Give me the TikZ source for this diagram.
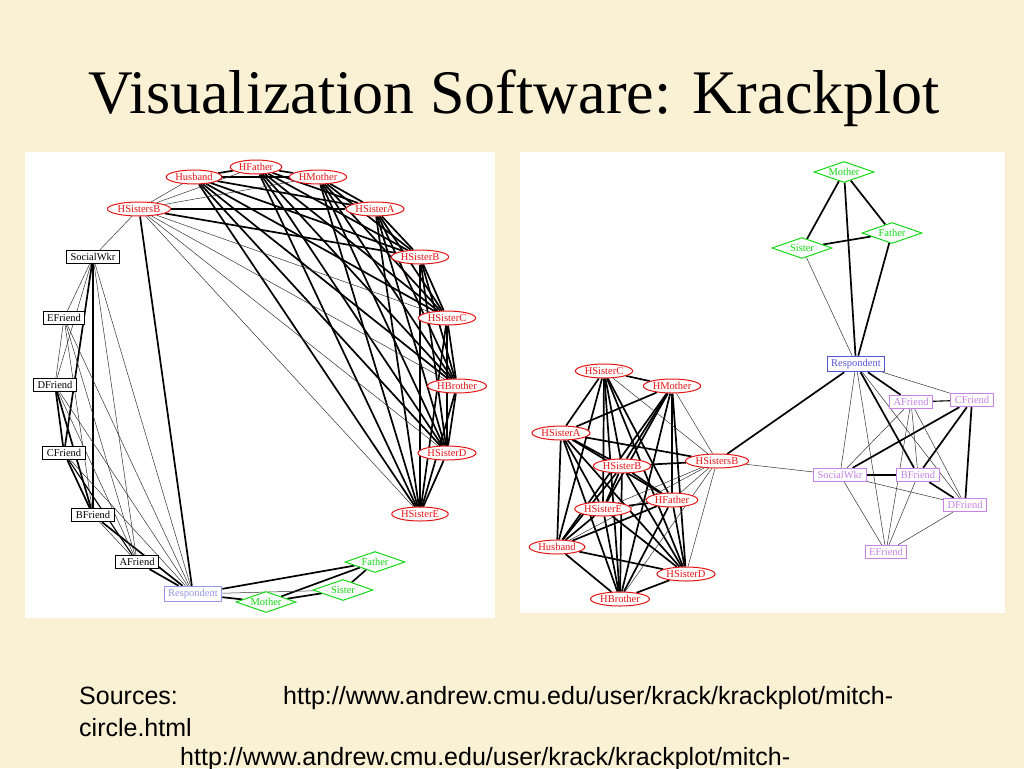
\documentclass[tikz,border=0pt]{standalone}
\usepackage{fontspec}
\setmainfont{Liberation Serif}
\setsansfont{Liberation Sans}
\usetikzlibrary{shapes,positioning,backgrounds}

\definecolor{slidebg}{RGB}{250,240,212}
\definecolor{famred}{RGB}{228,20,20}
\definecolor{kingreen}{RGB}{20,215,20}
\definecolor{egoblue}{RGB}{150,150,235}
\definecolor{egodark}{RGB}{85,85,215}
\definecolor{palviolet}{RGB}{200,130,230}

\pgfdeclarelayer{panel}
\pgfdeclarelayer{ties}
\pgfsetlayers{panel,ties,main}

\begin{document}
\begin{tikzpicture}[x=1pt, y=-1pt,
    fam/.style={ellipse, draw=famred, text=famred, fill=white, line width=1pt, inner xsep=1pt, inner ysep=0pt, minimum height=14, font=\fontsize{10.5}{10.5}\selectfont},
    kin/.style={diamond, aspect=2.7, draw=kingreen, text=kingreen, fill=white, line width=1pt, inner sep=0pt, minimum width=60, minimum height=21, font=\fontsize{10.5}{10.5}\selectfont},
    palbox/.style={rectangle, draw, fill=white, line width=1pt, inner xsep=4pt, inner ysep=3pt, font=\fontsize{10.5}{10.5}\selectfont},
    strongtie/.style={draw=black, line width=1.7pt},
    midtie/.style={draw=black, line width=1.1pt},
    weaktie/.style={draw=black!80, line width=0.5pt},
    title/.style={font=\fontsize{62}{62}\selectfont, anchor=base},
    source/.style={font=\sffamily\fontsize{25}{25}\selectfont, anchor=base west, inner sep=0pt},
]

\clip (0,0) rectangle (1024,768);

% Slide and panels
\begin{pgfonlayer}{panel}
\fill[slidebg] (0,0) rectangle (1024,768);
\fill[white] (25,152) rectangle (495,618);
\fill[white] (520,152) rectangle (1005,613);
\end{pgfonlayer}

\node[title] (head) at (514,113) {Visualization Software: Krackplot};

% Circle layout
\node[fam] (lhfather) at (256,167) {HFather};
\node[fam] (lhusband) at (194,177) {Husband};
\node[fam] (lhmother) at (318,177) {HMother};
\node[fam] (lhsistersb) at (139,209) {HSistersB};
\node[fam] (lhsistera) at (375,209) {HSisterA};
\node[fam] (lhsisterb) at (420,257) {HSisterB};
\node[fam] (lhsisterc) at (447,318) {HSisterC};
\node[fam] (lhbrother) at (457,386) {HBrother};
\node[fam] (lhsisterd) at (447,453) {HSisterD};
\node[fam] (lhsistere) at (420,514) {HSisterE};
\node[palbox] (lsocialwkr) at (93,257) {SocialWkr};
\node[palbox] (lefriend) at (64,318) {EFriend};
\node[palbox] (ldfriend) at (55,385) {DFriend};
\node[palbox] (lcfriend) at (64,453) {CFriend};
\node[palbox] (lbfriend) at (93,515) {BFriend};
\node[palbox] (lafriend) at (137,562) {AFriend};
\node[palbox, draw=egoblue, text=egoblue] (lrespondent) at (193,594) {Respondent};
\node[kin] (lfather) at (375,562) {Father};
\node[kin] (lsister) at (343,590) {Sister};
\node[kin] (lmother) at (266,602) {Mother};

% Spring layout
\node[kin] (rmother) at (844,172) {Mother};
\node[kin] (rfather) at (892,233) {Father};
\node[kin] (rsister) at (802,248) {Sister};
\node[palbox, draw=egodark, text=egodark] (rrespondent) at (856,364) {Respondent};
\node[palbox, draw=palviolet, text=palviolet] (rafriend) at (911,402) {AFriend};
\node[palbox, draw=palviolet, text=palviolet] (rcfriend) at (972,400) {CFriend};
\node[palbox, draw=palviolet, text=palviolet] (rsocialwkr) at (840,475) {SocialWkr};
\node[palbox, draw=palviolet, text=palviolet] (rbfriend) at (918,475) {BFriend};
\node[palbox, draw=palviolet, text=palviolet] (rdfriend) at (965,505) {DFriend};
\node[palbox, draw=palviolet, text=palviolet] (refriend) at (886,552) {EFriend};
\node[fam] (rhsisterc) at (604,371) {HSisterC};
\node[fam] (rhmother) at (672,386) {HMother};
\node[fam] (rhsistera) at (561,433) {HSisterA};
\node[fam] (rhsistersb) at (717,461) {HSistersB};
\node[fam] (rhsisterb) at (622,466) {HSisterB};
\node[fam] (rhfather) at (672,500) {HFather};
\node[fam] (rhsistere) at (603,509) {HSisterE};
\node[fam] (rhusband) at (557,547) {Husband};
\node[fam] (rhsisterd) at (686,574) {HSisterD};
\node[fam] (rhbrother) at (620,599) {HBrother};

% Ties, same network in both layouts
\begin{pgfonlayer}{ties}
\foreach \g in {l,r} {
  \foreach \a [count=\i] in {hfather,husband,hmother,hsistera,hsisterb,hsisterc,hbrother,hsisterd,hsistere} {
    \foreach \b [count=\j] in {hfather,husband,hmother,hsistera,hsisterb,hsisterc,hbrother,hsisterd,hsistere} {
      \ifnum\j>\i \draw[strongtie] (\g\a) -- (\g\b); \fi
    }
  }
  \foreach \a/\b in {hsistersb/hsistera, hsistersb/hsisterb, hsistersb/respondent,
      mother/sister, mother/father, sister/father, respondent/mother, respondent/father,
      respondent/bfriend, respondent/afriend, cfriend/socialwkr, cfriend/bfriend,
      cfriend/dfriend, bfriend/dfriend}
    \draw[strongtie] (\g\a) -- (\g\b);
  \foreach \a/\b in {afriend/cfriend, socialwkr/bfriend}
    \draw[midtie] (\g\a) -- (\g\b);
  \foreach \a/\b in {hsistersb/hfather, hsistersb/husband, hsistersb/hmother,
      hsistersb/hsisterc, hsistersb/hbrother, hsistersb/hsisterd, hsistersb/hsistere,
      hsistersb/socialwkr, respondent/sister, respondent/socialwkr, respondent/efriend,
      respondent/cfriend, respondent/dfriend, afriend/socialwkr, afriend/bfriend,
      afriend/dfriend, afriend/efriend, socialwkr/dfriend, socialwkr/efriend,
      bfriend/efriend, dfriend/efriend}
    \draw[weaktie] (\g\a) -- (\g\b);
}
\end{pgfonlayer}

% Sources
\node[source] (srclabel) at (79,704) {Sources:};
\node[source] (srcone) at (283,704) {http://www.andrew.cmu.edu/user/krack/krackplot/mitch-};
\node[source] (srconetail) at (79,736) {circle.html};
\node[source] (srctwo) at (180,765) {http://www.andrew.cmu.edu/user/krack/krackplot/mitch-};

\end{tikzpicture}
\end{document}
